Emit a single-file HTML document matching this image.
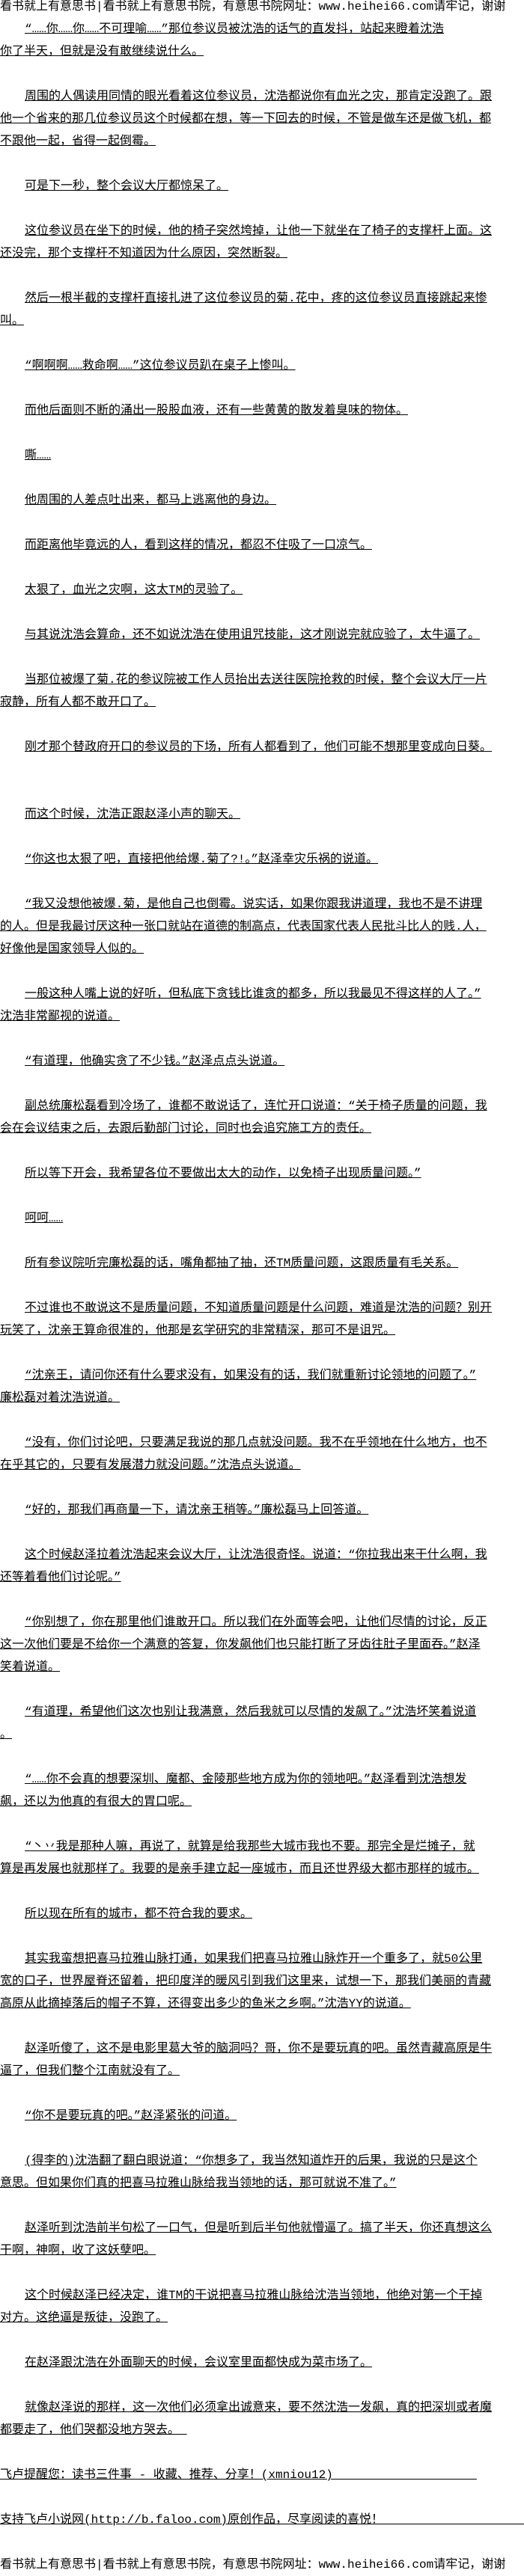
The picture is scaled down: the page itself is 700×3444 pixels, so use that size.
<!DOCTYPE html>
<html><head><meta charset="utf-8">
<style>
html,body{margin:0;padding:0;background:#fff;}
body{width:700px;height:3440px;position:relative;overflow:hidden;color:#000;font-family:"Liberation Mono","Noto Sans CJK SC","WenQuanYi Zen Hei",monospace;}
.l{position:absolute;left:0;width:700px;box-sizing:border-box;overflow:hidden;height:30px;line-height:30px;white-space:nowrap;font-size:16px;}
.l span{text-decoration:underline;}
.i{padding-left:33px;}
.h span{text-decoration:none;}
</style></head><body>
<div class="l h" style="top:-6px"><span>看书就上有意思书|看书就上有意思书院，有意思书院网址：www.heihei66.com请牢记，谢谢</span></div>
<div class="l i" style="top:24px"><span>“……你……你……不可理喻……”那位参议员被沈浩的话气的直发抖，站起来瞪着沈浩</span></div>
<div class="l" style="top:54px"><span>你了半天，但就是没有敢继续说什么。</span></div>
<div class="l i" style="top:114px"><span>周围的人偶读用同情的眼光看着这位参议员，沈浩都说你有血光之灾，那肯定没跑了。跟</span></div>
<div class="l" style="top:144px"><span>他一个省来的那几位参议员这个时候都在想，等一下回去的时候，不管是做车还是做飞机，都</span></div>
<div class="l" style="top:174px"><span>不跟他一起，省得一起倒霉。</span></div>
<div class="l i" style="top:234px"><span>可是下一秒，整个会议大厅都惊呆了。</span></div>
<div class="l i" style="top:294px"><span>这位参议员在坐下的时候，他的椅子突然垮掉，让他一下就坐在了椅子的支撑杆上面。这</span></div>
<div class="l" style="top:324px"><span>还没完，那个支撑杆不知道因为什么原因，突然断裂。</span></div>
<div class="l i" style="top:384px"><span>然后一根半截的支撑杆直接扎进了这位参议员的菊.花中，疼的这位参议员直接跳起来惨</span></div>
<div class="l" style="top:414px"><span>叫。</span></div>
<div class="l i" style="top:474px"><span>“啊啊啊……救命啊……”这位参议员趴在桌子上惨叫。</span></div>
<div class="l i" style="top:534px"><span>而他后面则不断的涌出一股股血液，还有一些黄黄的散发着臭味的物体。</span></div>
<div class="l i" style="top:594px"><span>嘶……</span></div>
<div class="l i" style="top:654px"><span>他周围的人差点吐出来，都马上逃离他的身边。</span></div>
<div class="l i" style="top:714px"><span>而距离他毕竟远的人，看到这样的情况，都忍不住吸了一口凉气。</span></div>
<div class="l i" style="top:774px"><span>太狠了，血光之灾啊，这太TM的灵验了。</span></div>
<div class="l i" style="top:834px"><span>与其说沈浩会算命，还不如说沈浩在使用诅咒技能，这才刚说完就应验了，太牛逼了。</span></div>
<div class="l i" style="top:894px"><span>当那位被爆了菊.花的参议院被工作人员抬出去送往医院抢救的时候，整个会议大厅一片</span></div>
<div class="l" style="top:924px"><span>寂静，所有人都不敢开口了。</span></div>
<div class="l i" style="top:984px"><span>刚才那个替政府开口的参议员的下场，所有人都看到了，他们可能不想那里变成向日葵。</span></div>
<div class="l i" style="top:1074px"><span>而这个时候，沈浩正跟赵泽小声的聊天。</span></div>
<div class="l i" style="top:1134px"><span>“你这也太狠了吧，直接把他给爆.菊了?!。”赵泽幸灾乐祸的说道。</span></div>
<div class="l i" style="top:1194px"><span>“我又没想他被爆.菊，是他自己也倒霉。说实话，如果你跟我讲道理，我也不是不讲理</span></div>
<div class="l" style="top:1224px"><span>的人。但是我最讨厌这种一张口就站在道德的制高点，代表国家代表人民批斗比人的贱.人，</span></div>
<div class="l" style="top:1254px"><span>好像他是国家领导人似的。</span></div>
<div class="l i" style="top:1314px"><span>一般这种人嘴上说的好听，但私底下贪钱比谁贪的都多，所以我最见不得这样的人了。”</span></div>
<div class="l" style="top:1344px"><span>沈浩非常鄙视的说道。</span></div>
<div class="l i" style="top:1404px"><span>“有道理，他确实贪了不少钱。”赵泽点点头说道。</span></div>
<div class="l i" style="top:1464px"><span>副总统廉松磊看到冷场了，谁都不敢说话了，连忙开口说道：“关于椅子质量的问题，我</span></div>
<div class="l" style="top:1494px"><span>会在会议结束之后，去跟后勤部门讨论，同时也会追究施工方的责任。</span></div>
<div class="l i" style="top:1554px"><span>所以等下开会，我希望各位不要做出太大的动作，以免椅子出现质量问题。”</span></div>
<div class="l i" style="top:1614px"><span>呵呵……</span></div>
<div class="l i" style="top:1674px"><span>所有参议院听完廉松磊的话，嘴角都抽了抽，还TM质量问题，这跟质量有毛关系。</span></div>
<div class="l i" style="top:1734px"><span>不过谁也不敢说这不是质量问题，不知道质量问题是什么问题，难道是沈浩的问题？别开</span></div>
<div class="l" style="top:1764px"><span>玩笑了，沈亲王算命很准的，他那是玄学研究的非常精深，那可不是诅咒。</span></div>
<div class="l i" style="top:1824px"><span>“沈亲王，请问你还有什么要求没有，如果没有的话，我们就重新讨论领地的问题了。”</span></div>
<div class="l" style="top:1854px"><span>廉松磊对着沈浩说道。</span></div>
<div class="l i" style="top:1914px"><span>“没有，你们讨论吧，只要满足我说的那几点就没问题。我不在乎领地在什么地方，也不</span></div>
<div class="l" style="top:1944px"><span>在乎其它的，只要有发展潜力就没问题。”沈浩点头说道。</span></div>
<div class="l i" style="top:2004px"><span>“好的，那我们再商量一下，请沈亲王稍等。”廉松磊马上回答道。</span></div>
<div class="l i" style="top:2064px"><span>这个时候赵泽拉着沈浩起来会议大厅，让沈浩很奇怪。说道：“你拉我出来干什么啊，我</span></div>
<div class="l" style="top:2094px"><span>还等着看他们讨论呢。”</span></div>
<div class="l i" style="top:2154px"><span>“你别想了，你在那里他们谁敢开口。所以我们在外面等会吧，让他们尽情的讨论，反正</span></div>
<div class="l" style="top:2184px"><span>这一次他们要是不给你一个满意的答复，你发飙他们也只能打断了牙齿往肚子里面吞。”赵泽</span></div>
<div class="l" style="top:2214px"><span>笑着说道。</span></div>
<div class="l i" style="top:2274px"><span>“有道理，希望他们这次也别让我满意，然后我就可以尽情的发飙了。”沈浩坏笑着说道</span></div>
<div class="l" style="top:2304px"><span>。</span></div>
<div class="l i" style="top:2364px"><span>“……你不会真的想要深圳、魔都、金陵那些地方成为你的领地吧。”赵泽看到沈浩想发</span></div>
<div class="l" style="top:2394px"><span>飙，还以为他真的有很大的胃口呢。</span></div>
<div class="l i" style="top:2454px"><span>“丶丷我是那种人嘛，再说了，就算是给我那些大城市我也不要。那完全是烂摊子，就</span></div>
<div class="l" style="top:2484px"><span>算是再发展也就那样了。我要的是亲手建立起一座城市，而且还世界级大都市那样的城市。</span></div>
<div class="l i" style="top:2544px"><span>所以现在所有的城市，都不符合我的要求。</span></div>
<div class="l i" style="top:2604px"><span>其实我蛮想把喜马拉雅山脉打通，如果我们把喜马拉雅山脉炸开一个重多了，就50公里</span></div>
<div class="l" style="top:2634px"><span>宽的口子，世界屋脊还留着，把印度洋的暖风引到我们这里来，试想一下，那我们美丽的青藏</span></div>
<div class="l" style="top:2664px"><span>高原从此摘掉落后的帽子不算，还得变出多少的鱼米之乡啊。”沈浩YY的说道。</span></div>
<div class="l i" style="top:2724px"><span>赵泽听傻了，这不是电影里葛大爷的脑洞吗？哥，你不是要玩真的吧。虽然青藏高原是牛</span></div>
<div class="l" style="top:2754px"><span>逼了，但我们整个江南就没有了。</span></div>
<div class="l i" style="top:2814px"><span>“你不是要玩真的吧。”赵泽紧张的问道。</span></div>
<div class="l i" style="top:2874px"><span>(得李的)沈浩翻了翻白眼说道：“你想多了，我当然知道炸开的后果，我说的只是这个</span></div>
<div class="l" style="top:2904px"><span>意思。但如果你们真的把喜马拉雅山脉给我当领地的话，那可就说不准了。”</span></div>
<div class="l i" style="top:2964px"><span>赵泽听到沈浩前半句松了一口气，但是听到后半句他就懵逼了。搞了半天，你还真想这么</span></div>
<div class="l" style="top:2994px"><span>干啊，神啊，收了这妖孽吧。</span></div>
<div class="l i" style="top:3054px"><span>这个时候赵泽已经决定，谁TM的干说把喜马拉雅山脉给沈浩当领地，他绝对第一个干掉</span></div>
<div class="l" style="top:3084px"><span>对方。这绝逼是叛徒，没跑了。</span></div>
<div class="l i" style="top:3144px"><span>在赵泽跟沈浩在外面聊天的时候，会议室里面都快成为菜市场了。</span></div>
<div class="l i" style="top:3204px"><span>就像赵泽说的那样，这一次他们必须拿出诚意来，要不然沈浩一发飙，真的把深圳或者魔</span></div>
<div class="l" style="top:3234px"><span>都要走了，他们哭都没地方哭去。&nbsp;</span></div>
<div class="l" style="top:3294px"><span>飞卢提醒您：读书三件事 - 收藏、推荐、分享！(xmniou12)&nbsp;&nbsp;&nbsp;&nbsp;&nbsp;&nbsp;&nbsp;&nbsp;&nbsp;&nbsp;&nbsp;&nbsp;&nbsp;&nbsp;&nbsp;&nbsp;&nbsp;&nbsp;&nbsp;&nbsp;</span></div>
<div class="l" style="top:3354px"><span>支持飞卢小说网(http://b.faloo.com)原创作品，尽享阅读的喜悦！&nbsp;&nbsp;&nbsp;&nbsp;&nbsp;&nbsp;&nbsp;&nbsp;&nbsp;&nbsp;&nbsp;&nbsp;&nbsp;&nbsp;&nbsp;&nbsp;&nbsp;&nbsp;&nbsp;&nbsp;&nbsp;&nbsp;&nbsp;&nbsp;&nbsp;</span></div>
<div class="l h" style="top:3414px"><span>看书就上有意思书|看书就上有意思书院，有意思书院网址：www.heihei66.com请牢记，谢谢</span></div>
</body></html>
